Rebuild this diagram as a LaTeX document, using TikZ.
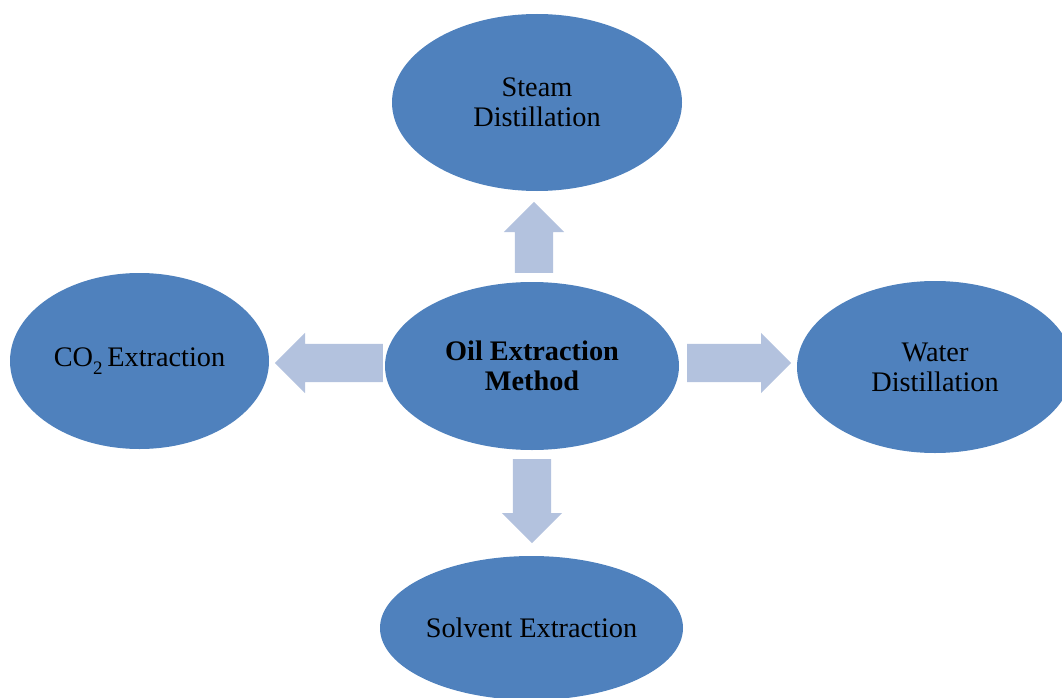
\documentclass[tikz,border=0pt]{standalone}
\usepackage{fontspec}
\setmainfont{Liberation Serif}
\usetikzlibrary{shapes.geometric,shapes.arrows}
\definecolor{ovalblue}{HTML}{4F81BD}
\definecolor{arrowblue}{HTML}{B3C2DE}
\tikzset{
  oval/.style={ellipse, fill=ovalblue, draw=none, inner sep=0pt, align=center,
    font=\fontsize{28.3}{30}\selectfont, text=black},
  blockarrow/.style={single arrow, fill=arrowblue, draw=none, inner xsep=0pt,
    inner ysep=19pt, single arrow head extend=11pt, single arrow tip angle=90, anchor=tail}
}
\begin{document}
\begin{tikzpicture}[x=1pt,y=-1pt]
\useasboundingbox (0,0) rectangle (1062,698);
\node[oval, minimum width=294pt, minimum height=168pt, font=\fontsize{28.3}{30}\selectfont\bfseries]
  (center) at (532,366) {Oil Extraction\\Method};
\node[oval, minimum width=290pt, minimum height=177pt] (steam) at (537,102.5) {Steam\\Distillation};
\node[oval, minimum width=259pt, minimum height=176pt] (co2) at (139.5,361)
  {CO\raisebox{-0.3em}{\fontsize{19}{19}\selectfont 2}\,Extraction};
\node[oval, minimum width=276pt, minimum height=172pt] (water) at (935,367) {Water\\Distillation};
\node[oval, minimum width=303pt, minimum height=144pt] (solvent) at (531.5,628) {Solvent Extraction};
% block arrows between the central oval and the outer ovals
\node[blockarrow, minimum height=71pt, rotate=90] (aup) at (534,273) {};
\node[blockarrow, minimum height=104pt] (aright) at (687,363) {};
\node[blockarrow, minimum height=108pt, rotate=180] (aleft) at (383,363) {};
\node[blockarrow, minimum height=84pt, rotate=-90] (adown) at (532,459) {};
\end{tikzpicture}
\end{document}
